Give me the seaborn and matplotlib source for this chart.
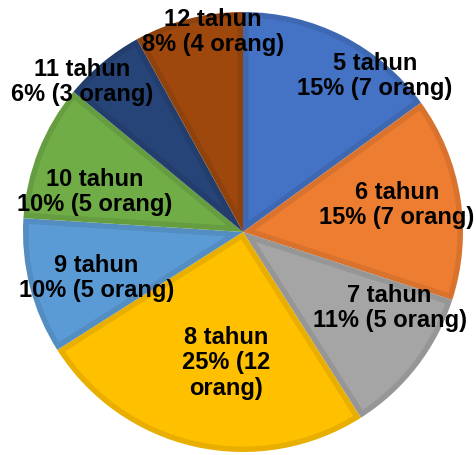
import numpy as np
import matplotlib
matplotlib.use("Agg")
import matplotlib.pyplot as plt
from matplotlib.patches import Polygon
import seaborn as sns

# data
ages = ['5 tahun', '6 tahun', '7 tahun', '8 tahun', '9 tahun', '10 tahun', '11 tahun', '12 tahun']
percent = [15, 15, 11, 25, 10, 10, 6, 8]
people = [7, 7, 5, 12, 5, 5, 3, 4]

colors = ['#4472C4', '#ED7D31', '#A5A5A5', '#FFC000', '#5B9BD5', '#70AD47', '#264478', '#9E480E']

# label placement (radius, angle offset from wedge middle)
label_r = [0.93, 0.71, 0.75, 0.60, 0.70, 0.70, 1.0, 0.92]
label_off = [-13.2, 0.9, 10.5, 5.2, 3.1, 6.5, 7.4, -5.9]

sns.set_style('white')
plt.rcParams['font.family'] = ['Liberation Sans', 'DejaVu Sans']


def darker(c, f=0.91):
    r, g, b = matplotlib.colors.to_rgb(c)
    return (r * f, g * f, b * f)


fig = plt.figure(figsize=(4.77, 4.55), dpi=100)
ax = fig.add_axes([0, 0, 1, 1])

# outer (border) colour pie
wedges, _ = ax.pie(percent, colors=[darker(c) for c in colors], startangle=90,
                   counterclock=False, wedgeprops=dict(linewidth=0))

# inner fill, inset from every side of the wedge
d = 0.025
for w, c in zip(wedges, colors):
    t1, t2 = np.radians(w.theta1), np.radians(w.theta2)
    h = (t2 - t1) / 2
    bis = (t1 + t2) / 2
    apex = d / np.sin(h) * np.array([np.cos(bis), np.sin(bis)])
    rr = w.r - d
    delta = np.arcsin(d / rr)
    th = np.linspace(t1 + delta, t2 - delta, 100)
    pts = np.vstack([apex, np.column_stack([rr * np.cos(th), rr * np.sin(th)])])
    ax.add_patch(Polygon(pts, closed=True, facecolor=c, edgecolor='none'))

for i, w in enumerate(wedges):
    mid = (w.theta1 + w.theta2) / 2 + label_off[i]
    x = label_r[i] * np.cos(np.radians(mid))
    y = label_r[i] * np.sin(np.radians(mid))
    if ages[i] == '8 tahun':
        txt = '%s\n%d%% (%d\norang)' % (ages[i], percent[i], people[i])
    else:
        txt = '%s\n%d%% (%d orang)' % (ages[i], percent[i], people[i])
    ax.text(x, y, txt, ha='center', va='center', fontsize=17, fontweight='bold',
            color='black', linespacing=1.12)

ax.set_xlim(-243 / 220, 234 / 220)
ax.set_ylim(-223 / 220, 232 / 220)
ax.set_aspect('equal')
ax.axis('off')

fig.savefig('out.png', dpi=100)
